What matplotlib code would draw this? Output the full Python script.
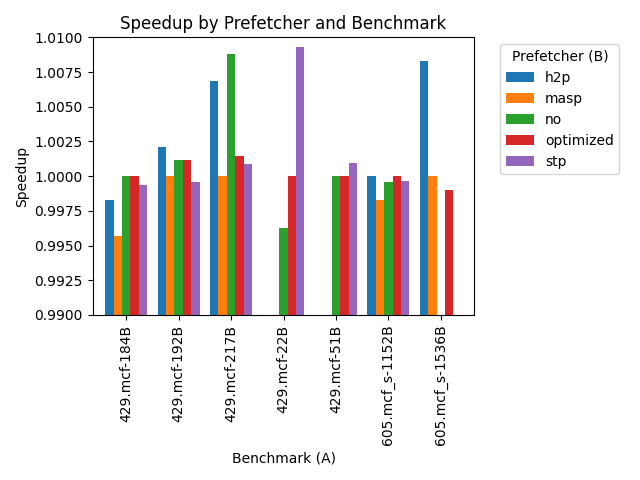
import numpy as np
import matplotlib
matplotlib.use('Agg')
import matplotlib.pyplot as plt

benchmarks = ['429.mcf-184B', '429.mcf-192B', '429.mcf-217B', '429.mcf-22B',
              '429.mcf-51B', '605.mcf_s-1152B', '605.mcf_s-1536B']
prefetchers = ['h2p', 'masp', 'no', 'optimized', 'stp']

h2p = [0.99830, 1.00213, 1.00682, np.nan, np.nan, 1.00000, 1.00827]
masp = [0.99570, 1.00000, 1.00000, np.nan, np.nan, 0.99830, 1.00000]
no = [1.00000, 1.00119, 1.00877, 0.99628, 1.00000, 0.99960, np.nan]
optimized = [1.00000, 1.00119, 1.00148, 1.00000, 1.00000, 1.00000, 0.99903]
stp = [0.99939, 0.99960, 1.00090, 1.00928, 1.00097, 0.99968, np.nan]

series = [h2p, masp, no, optimized, stp]
colors = ['#1f77b4', '#ff7f0e', '#2ca02c', '#d62728', '#9467bd']

fig, ax = plt.subplots(figsize=(6.4, 4.8), dpi=100)
x = np.arange(len(benchmarks))
width = 0.8 / len(prefetchers)
for i, (name, vals) in enumerate(zip(prefetchers, series)):
    ax.bar(x - 0.4 + width * (i + 0.5), vals, width, label=name, color=colors[i])

ax.set_xticks(x)
ax.set_xticklabels(benchmarks, rotation=90)
ax.set_xlim(-0.64, len(benchmarks) - 1 + 0.64)
ax.set_ylim(0.99, 1.01)
ax.yaxis.set_major_formatter(matplotlib.ticker.FormatStrFormatter('%.4f'))
ax.set_xlabel('Benchmark (A)')
ax.set_ylabel('Speedup')
ax.set_title('Speedup by Prefetcher and Benchmark')
ax.legend(title='Prefetcher (B)', bbox_to_anchor=(1.05, 1), loc='upper left')
plt.tight_layout()
plt.savefig('out.png')
